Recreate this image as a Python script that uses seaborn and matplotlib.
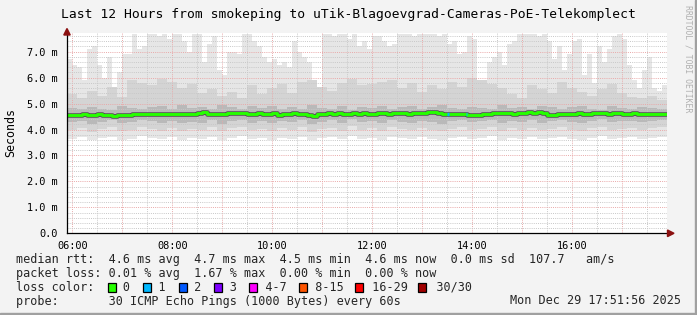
import numpy as np
import pandas as pd
import matplotlib
matplotlib.use("Agg")
import matplotlib.pyplot as plt
import matplotlib.dates as mdates
from matplotlib.ticker import FuncFormatter, MultipleLocator
from matplotlib.patches import Rectangle, Polygon
import seaborn as sns

# ---------------- data ----------------
start_time = "2025-12-29 05:53:30"
title = "Last 12 Hours from smokeping to uTik-Blagoevgrad-Cameras-PoE-Telekomplect"

# 6-minute bins (120)
smoke_max = [6.7, 6.5, 6.4, 5.9, 7.1, 7.2, 6.5, 6.0, 6.8, 5.6,
             6.2, 6.9, 6.9, 7.7, 7.1, 7.2, 7.7, 7.7, 7.6, 7.7,
             7.5, 7.7, 7.7, 7.4, 7.0, 7.7, 7.7, 6.6, 7.3, 7.6,
             6.3, 6.1, 7.0, 7.0, 6.9, 7.7, 7.7, 7.4, 7.2, 6.8,
             6.6, 6.7, 6.5, 6.6, 6.4, 7.4, 7.0, 6.8, 6.6, 5.8,
             5.4, 7.7, 7.7, 7.6, 7.7, 7.7, 7.5, 7.7, 7.2, 7.4,
             7.1, 7.6, 7.6, 7.4, 7.2, 7.3, 7.7, 7.7, 7.7, 7.6,
             7.7, 7.7, 7.7, 7.7, 7.6, 7.7, 7.3, 7.4, 6.9, 7.0,
             7.6, 7.5, 5.9, 5.6, 6.6, 6.8, 7.0, 6.5, 7.3, 7.4,
             7.7, 7.7, 7.7, 7.7, 7.6, 7.7, 7.4, 6.7, 7.2, 6.3,
             6.9, 7.4, 7.5, 6.1, 6.9, 5.8, 7.2, 6.6, 7.1, 7.6,
             7.7, 7.5, 6.5, 5.9, 5.6, 6.3, 6.8, 5.6, 5.5, 5.7]

median_rtt = [4.56, 4.57, 4.55, 4.58, 4.57, 4.56, 4.58, 4.57, 4.55, 4.54,
              4.55, 4.56, 4.57, 4.60, 4.59, 4.60, 4.58, 4.59, 4.60, 4.58,
              4.60, 4.59, 4.61, 4.60, 4.58, 4.60, 4.65, 4.66, 4.61, 4.59,
              4.61, 4.60, 4.62, 4.63, 4.64, 4.62, 4.61, 4.60, 4.62, 4.60,
              4.59, 4.62, 4.55, 4.60, 4.61, 4.62, 4.60, 4.58, 4.57, 4.53,
              4.58, 4.60, 4.62, 4.61, 4.63, 4.60, 4.61, 4.62, 4.60, 4.62,
              4.61, 4.60, 4.62, 4.63, 4.61, 4.62, 4.63, 4.62, 4.61, 4.63,
              4.62, 4.63, 4.66, 4.67, 4.64, 4.60, 4.58, 4.59, 4.60, 4.61,
              4.57, 4.55, 4.56, 4.60, 4.61, 4.62, 4.64, 4.62, 4.63, 4.61,
              4.62, 4.64, 4.66, 4.65, 4.66, 4.63, 4.57, 4.56, 4.60, 4.61,
              4.60, 4.61, 4.62, 4.58, 4.60, 4.62, 4.64, 4.63, 4.60, 4.62,
              4.63, 4.61, 4.60, 4.62, 4.61, 4.60, 4.59, 4.61, 4.60, 4.58]

# 12-minute bins (60)
smoke_min = [3.62, 3.70, 3.58, 3.66, 3.72, 3.60, 3.64, 3.75, 3.68, 3.62,
             3.70, 3.58, 3.66, 3.63, 3.71, 3.60, 3.68, 3.74, 3.62, 3.66,
             3.60, 3.69, 3.64, 3.72, 3.58, 3.66, 3.70, 3.62, 3.75, 3.64,
             3.68, 3.60, 3.72, 3.66, 3.62, 3.70, 3.64, 3.58, 3.68, 3.72,
             3.62, 3.66, 3.74, 3.60, 3.68, 3.64, 3.70, 3.62, 3.66, 3.72,
             3.64, 3.60, 3.68, 3.74, 3.62, 3.66, 3.70, 3.64, 3.68, 3.72]
smoke_q10 = [3.98, 4.05, 3.92, 4.02, 4.08, 3.95, 4.00, 4.10, 4.03, 3.96,
             4.06, 3.94, 4.01, 3.98, 4.08, 3.93, 4.04, 4.11, 3.97, 4.02,
             3.95, 4.06, 3.99, 4.09, 3.92, 4.01, 4.07, 3.96, 4.12, 4.00,
             4.04, 3.95, 4.08, 4.02, 3.97, 4.06, 4.00, 3.93, 4.03, 4.09,
             3.98, 4.02, 4.10, 3.95, 4.05, 4.00, 4.07, 3.97, 4.02, 4.08,
             4.00, 3.96, 4.04, 4.11, 3.98, 4.02, 4.06, 4.00, 4.04, 4.08]
smoke_q25 = [4.28, 4.33, 4.22, 4.30, 4.36, 4.25, 4.29, 4.38, 4.31, 4.26,
             4.34, 4.24, 4.30, 4.27, 4.35, 4.23, 4.32, 4.38, 4.27, 4.31,
             4.25, 4.34, 4.28, 4.36, 4.22, 4.30, 4.35, 4.26, 4.39, 4.29,
             4.32, 4.25, 4.36, 4.30, 4.27, 4.34, 4.29, 4.23, 4.31, 4.37,
             4.28, 4.31, 4.38, 4.25, 4.33, 4.29, 4.35, 4.27, 4.31, 4.36,
             4.29, 4.26, 4.32, 4.39, 4.28, 4.31, 4.34, 4.29, 4.32, 4.36]
smoke_q75 = [4.82, 4.78, 4.88, 4.80, 4.76, 4.92, 4.84, 4.79, 4.86, 4.90,
             4.80, 4.95, 4.83, 4.88, 4.78, 4.93, 4.85, 4.80, 4.90, 4.84,
             4.92, 4.81, 4.87, 4.79, 4.95, 4.84, 4.80, 4.91, 4.77, 4.86,
             4.83, 4.92, 4.79, 4.86, 4.90, 4.81, 4.87, 4.94, 4.82, 4.78,
             4.88, 4.84, 4.78, 4.93, 4.82, 4.87, 4.80, 4.91, 4.85, 4.79,
             4.86, 4.92, 4.81, 4.77, 4.89, 4.84, 4.80, 4.87, 4.83, 4.79]
smoke_q90 = [5.35, 5.20, 5.50, 5.30, 5.65, 5.25, 5.90, 5.80, 5.70, 5.95,
             5.85, 5.60, 5.75, 5.40, 5.55, 5.30, 5.45, 5.20, 5.70, 5.35,
             5.60, 5.75, 5.40, 5.85, 5.90, 5.65, 5.50, 5.80, 5.95, 5.70,
             5.75, 5.85, 5.90, 5.60, 5.80, 5.45, 5.70, 5.55, 5.85, 5.65,
             6.00, 5.90, 5.75, 5.60, 5.35, 5.20, 5.70, 5.55, 5.40, 5.85,
             5.60, 5.45, 5.30, 5.55, 5.75, 5.40, 5.25, 5.20, 5.30, 5.15]

loss_times = ["13:30", "13:52"]
loss_values = [1, 1]

loss_labels = ["0", "1", "2", "3", "4-7", "8-15", "16-29", "30/30"]
loss_colors = ["#26ff00", "#00b8ff", "#0059ff", "#7e00ff", "#ff00ff",
               "#ff5500", "#ff0000", "#a10000"]

legend_rtt = "median rtt:  4.6 ms avg  4.7 ms max  4.5 ms min  4.6 ms now  0.0 ms sd  107.7   am/s"
legend_loss = "packet loss: 0.01 % avg  1.67 % max  0.00 % min  0.00 % now"
probe_text = "probe:       30 ICMP Echo Pings (1000 Bytes) every 60s"
date_text = "Mon Dec 29 17:51:56 2025"

# ---------------- figure ----------------
sns.set_theme(style="white")
plt.rcParams['font.family'] = ['DejaVu Sans Mono', 'DejaVu Sans']

W, H = 697, 315
fig = plt.figure(figsize=(W / 100, H / 100), dpi=100, facecolor='#f3f3f3')


def fx(px):
    return px / W


def fy(py):
    return 1 - py / H


ax = fig.add_axes([fx(67), fy(233.3), fx(667) - fx(67), fy(33) - fy(233.3)])
ax.set_facecolor('white')

t0 = pd.Timestamp(start_time)
t_fine = mdates.date2num(pd.date_range(t0, periods=121, freq="6min").to_pydatetime())
t_coarse = mdates.date2num(pd.date_range(t0, periods=61, freq="12min").to_pydatetime())


def ext(a):
    a = np.asarray(a, dtype=float)
    return np.append(a, a[-1])


mn_fine = np.repeat(np.asarray(smoke_min), 2)
ax.fill_between(t_fine, ext(mn_fine), ext(smoke_max), step='post',
                color='#e6e6e6', linewidth=0, zorder=1)
ax.fill_between(t_coarse, ext(smoke_q10), ext(smoke_q90), step='post',
                color='#d4d4d4', linewidth=0, zorder=1.1)
ax.fill_between(t_coarse, ext(smoke_q25), ext(smoke_q75), step='post',
                color='#b9b9b9', linewidth=0, zorder=1.2)

df = pd.DataFrame({"t": t_fine, "rtt": ext(median_rtt)})
sns.lineplot(data=df, x="t", y="rtt", drawstyle='steps-post', color='#555555',
             linewidth=3.3, ax=ax, zorder=3)
sns.lineplot(data=df, x="t", y="rtt", drawstyle='steps-post', color=loss_colors[0],
             linewidth=2.1, ax=ax, zorder=4)

step = 6 / 1440
for tt, lv in zip(loss_times, loss_values):
    tn = mdates.date2num(pd.Timestamp("2025-12-29 " + tt).to_pydatetime())
    idx = int((tn - t_fine[0]) / step)
    ax.hlines(median_rtt[idx], tn, tn + 2 / 1440, color=loss_colors[lv],
              linewidth=2.4, zorder=5)

ax.set_xlim(t_fine[0], t_fine[-1])
ax.set_ylim(0, 7.72)
ax.set_xlabel("")
ax.set_ylabel("")

# ticks
ax.xaxis.set_major_locator(mdates.HourLocator())
ax.xaxis.set_minor_locator(mdates.MinuteLocator(byminute=[30]))


def fmt_time(v, pos):
    d = mdates.num2date(v + 1e-7)
    return d.strftime('%H:%M') if d.hour % 2 == 0 else ''


ax.xaxis.set_major_formatter(FuncFormatter(fmt_time))
ax.yaxis.set_major_locator(MultipleLocator(1))
ax.yaxis.set_minor_locator(MultipleLocator(0.2))
ax.yaxis.set_major_formatter(FuncFormatter(lambda v, p: "0.0" if abs(v) < 1e-9 else f"{v:.1f} m"))

ax.tick_params(which='major', direction='inout', length=3, width=0.7, color='black',
               labelsize=7.4, labelcolor='black')
ax.tick_params(which='minor', direction='inout', length=2, width=0.6, color='black')
ax.tick_params(axis='x', which='major', pad=4)
ax.tick_params(axis='y', which='major', pad=5)

ax.grid(which='major', axis='both', color='#e9a8a8', linestyle=(0, (1, 1.2)), linewidth=0.7)
ax.grid(which='minor', axis='both', color='#c8c8c8', linestyle=(0, (1, 1.2)), linewidth=0.7)
ax.set_axisbelow(False)

for s in ['top', 'right']:
    ax.spines[s].set_visible(False)
for s in ['left', 'bottom']:
    ax.spines[s].set_color('black')
    ax.spines[s].set_linewidth(0.9)
    ax.spines[s].set_zorder(6)

# arrows
arrow_col = '#8b1010'
fig.patches.append(Polygon([(fx(67), fy(28.5)), (fx(63.8), fy(35)), (fx(70.2), fy(35))],
                           closed=True, transform=fig.transFigure, color=arrow_col, zorder=10))
fig.patches.append(Polygon([(fx(674), fy(233.3)), (fx(667.5), fy(230)), (fx(667.5), fy(236.6))],
                           closed=True, transform=fig.transFigure, color=arrow_col, zorder=10))

# border (3D frame)
fig.patches.append(Rectangle((fx(695), 0), fx(2), 1, transform=fig.transFigure,
                             color='#a0a0a0', zorder=10))
fig.patches.append(Rectangle((0, 0), 1, 2 / H, transform=fig.transFigure,
                             color='#a0a0a0', zorder=10))

# texts
fig.text(fx(348.5), fy(14.5), title, ha='center', va='center', fontsize=9.4, color='black')
fig.text(fx(10.5), fy(132), "Seconds", rotation=90, ha='center', va='center',
         fontsize=8.4, color='black')
fig.text(fx(688), fy(5), "RRDTOOL / TOBI OETIKER", rotation=270, ha='center', va='top',
         fontsize=5.9, color='#b0b0b0')

lx = 16
cw = 7.05
rows = [259.6, 273.4, 287.2, 301.0]
fig.text(fx(lx), fy(rows[0]), legend_rtt, ha='left', va='center', fontsize=8.45)
fig.text(fx(lx), fy(rows[1]), legend_loss, ha='left', va='center', fontsize=8.45)

row3 = "loss color:  "
box_cols = []
for lab in loss_labels:
    box_cols.append(len(row3))
    row3 += "  " + lab + "  "
fig.text(fx(lx), fy(rows[2]), row3.rstrip(), ha='left', va='center', fontsize=8.45)
for col, c in zip(box_cols, loss_colors):
    x0 = lx + col * cw + 0.6
    fig.patches.append(Rectangle((fx(x0), fy(rows[2] + 4.5)), fx(8), 9 / H,
                                 transform=fig.transFigure, facecolor=c,
                                 edgecolor='black', linewidth=0.9, zorder=10))

fig.text(fx(lx), fy(rows[3]), probe_text, ha='left', va='center', fontsize=8.45)
fig.text(fx(681), fy(rows[3]), date_text, ha='right', va='center', fontsize=8.45)

fig.savefig("out.png", dpi=100, facecolor=fig.get_facecolor())
